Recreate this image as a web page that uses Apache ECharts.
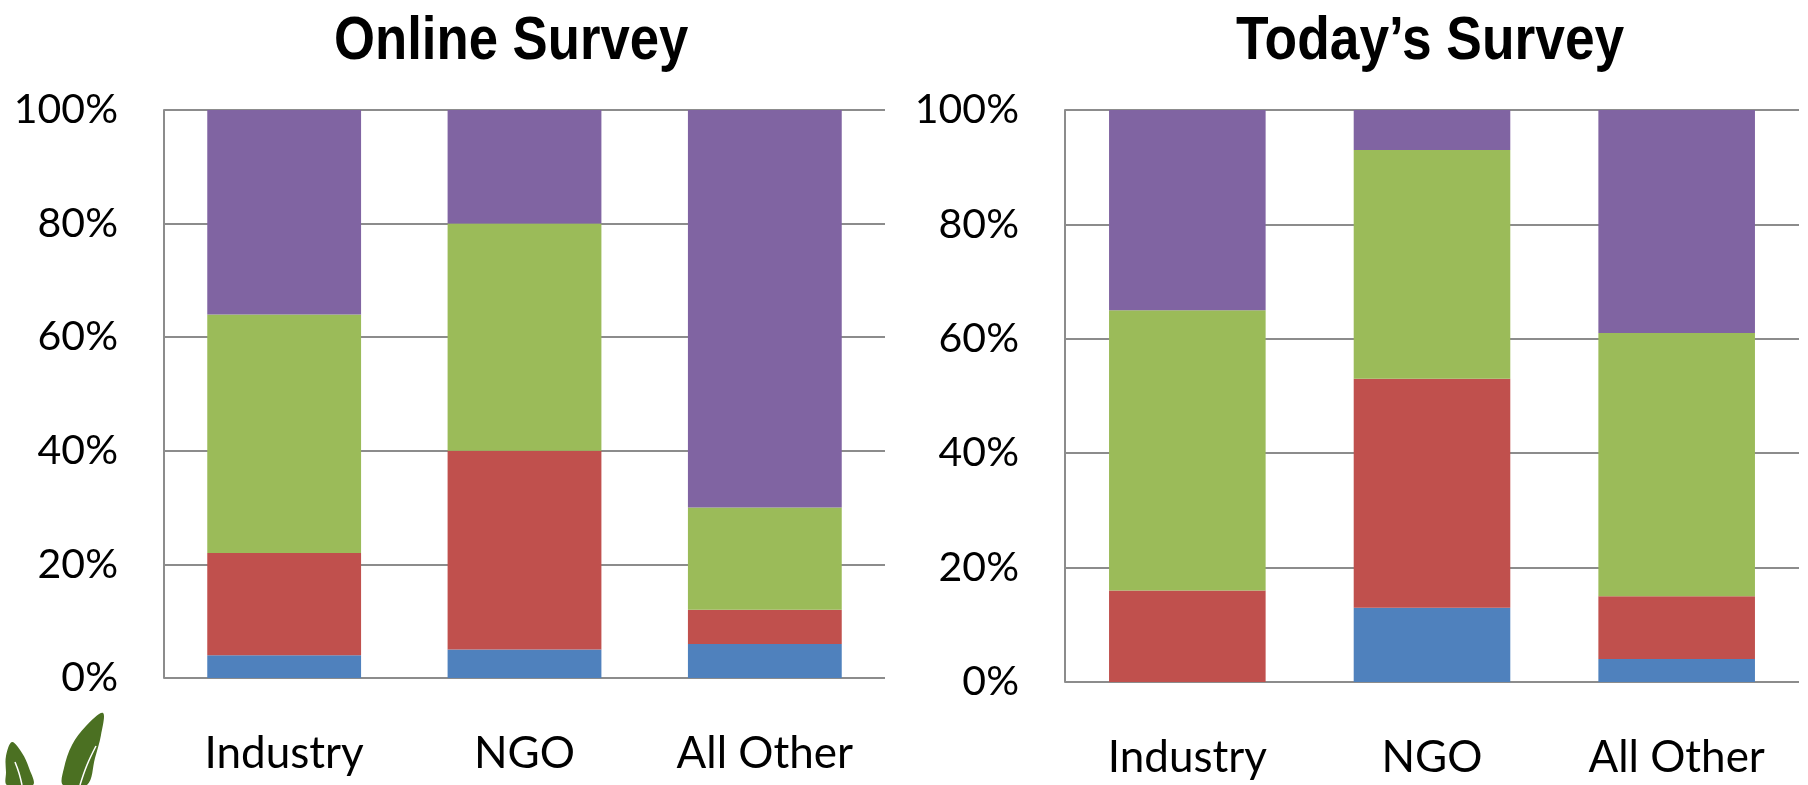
<!DOCTYPE html>
<html>
<head>
<meta charset="utf-8">
<script src="https://cdn.jsdelivr.net/npm/echarts@6/dist/echarts.min.js"></script>
<style>
html,body{margin:0;padding:0;background:#fff;}
#main{width:1808px;height:785px;}
</style>
</head>
<body>
<div id="main"></div>
<script>
// ---- data ----
const categories = ['Industry', 'NGO', 'All Other'];
const yTicks = [0, 20, 40, 60, 80, 100];
const chartTitles = ['Online Survey', 'Today\u2019s Survey'];

// Online Survey (percent of respondents)
const onlineBlue   = [4, 5, 6];
const onlineRed    = [18, 35, 6];
const onlineGreen  = [42, 40, 18];
const onlinePurple = [36, 20, 70];

// Today's Survey
const todayBlue   = [0, 13, 4];
const todayRed    = [16, 40, 11];
const todayGreen  = [49, 40, 46];
const todayPurple = [35, 7, 39];

const colors = ['#4F81BD', '#C0504D', '#9BBB59', '#8064A2'];
const labelFont = 'Lato, "Open Sans", sans-serif';
const titleFont = '"Liberation Sans", Arial, sans-serif';

const chart = echarts.init(document.getElementById('main'));

function yAxisCfg(gi) {
  return {
    gridIndex: gi, type: 'value', min: yTicks[0], max: yTicks[yTicks.length - 1], interval: 20,
    axisLine: {show: true, lineStyle: {color: '#8c8c8c', width: 2}},
    axisTick: {show: false},
    splitLine: {show: true, lineStyle: {color: '#8c8c8c', width: 2}},
    axisLabel: {formatter: '{value}%', fontSize: 41, color: '#000', fontFamily: labelFont, margin: 46}
  };
}
function xAxisCfg(gi) {
  return {
    gridIndex: gi, type: 'category', data: categories,
    axisLine: {show: false}, axisTick: {show: false},
    axisLabel: {fontSize: 44, color: '#000', fontFamily: labelFont, margin: 54}
  };
}
function seriesSet(gi, arrs) {
  return arrs.map((d, i) => ({
    type: 'bar', xAxisIndex: gi, yAxisIndex: gi, stack: 's' + gi, data: d,
    barWidth: '64%', itemStyle: {color: colors[i]}, silent: true
  }));
}

chart.setOption({
  animation: false,
  backgroundColor: '#fff',
  grid: [
    {left: 164, top: 110, width: 721, height: 568},
    {left: 1065, top: 110, width: 734, height: 572}
  ],
  xAxis: [xAxisCfg(0), xAxisCfg(1)],
  yAxis: [yAxisCfg(0), yAxisCfg(1)],
  series: [
    ...seriesSet(0, [onlineBlue, onlineRed, onlineGreen, onlinePurple]),
    ...seriesSet(1, [todayBlue, todayRed, todayGreen, todayPurple])
  ],
  graphic: [
    {type: 'text', left: 511 - 177, top: 11,
     style: {text: chartTitles[0], font: 'bold 62px ' + titleFont, fill: '#000'}, scaleX: 0.85},
    {type: 'text', left: 1236, top: 11,
     style: {text: chartTitles[1], font: 'bold 62px ' + titleFont, fill: '#000'}, scaleX: 0.86},
    {type: 'polygon', shape: {points: [[103,713],[86,726],[72,745],[64,768],[63,785],[87,785],[95,758],[101,735]], smooth: 0.35},
     style: {fill: '#4B7022'}},
    {type: 'polygon', shape: {points: [[12,742],[6,756],[6,772],[7,785],[33,785],[29,768],[22,753]], smooth: 0.35},
     style: {fill: '#4B7022'}},
    {type: 'polyline', shape: {points: [[96,746],[87,765],[80,785]], smooth: 0.4},
     style: {stroke: '#fff', lineWidth: 1.5, fill: null}},
    {type: 'polyline', shape: {points: [[15,762],[19,773],[22,785]], smooth: 0.4},
     style: {stroke: '#fff', lineWidth: 1.5, fill: null}}
  ]
});
</script>
</body>
</html>
